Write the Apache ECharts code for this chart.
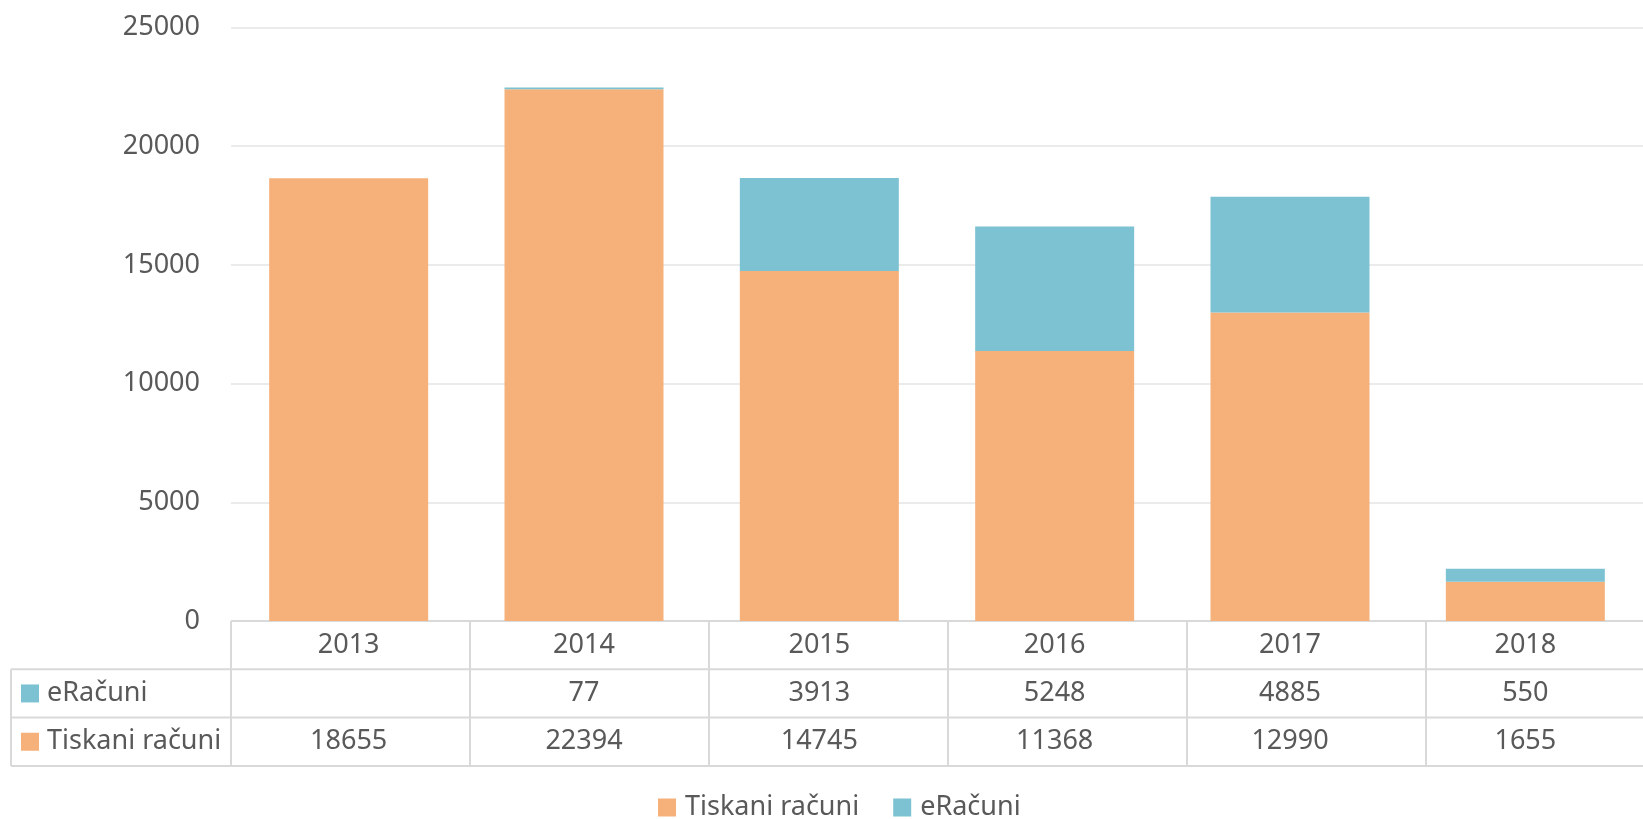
<!DOCTYPE html>
<html><head><meta charset="utf-8">
<script src="https://cdn.jsdelivr.net/npm/echarts@6/dist/echarts.min.js"></script>
<style>html,body{margin:0;padding:0;background:#fff}#c{width:1643px;height:819px}</style>
</head><body><div id="c"></div>
<script>
const years = ['2013','2014','2015','2016','2017','2018'];
const eRacuni = [null, 77, 3913, 5248, 4885, 550];
const tiskani = [18655, 22394, 14745, 11368, 12990, 1655];
const yTicks = [0, 5000, 10000, 15000, 20000, 25000];
const nameE = 'eRačuni', nameT = 'Tiskani računi';
const colE = '#7DC2D3', colT = '#F6B17B';
const txt = '#595959', font = '"Noto Sans", "Open Sans", sans-serif', fs = 27;
const border = '#D9D9D9';

const chart = echarts.init(document.getElementById('c'), null, {renderer:'canvas'});
const G = {left:231, top:27.5, height:593.5, width:1434};
chart.setOption({
  animation:false,
  textStyle:{fontFamily:font},
  grid:{left:G.left, top:G.top, height:G.height, width:G.width, containLabel:false},
  legend:{left:653, top:789, itemWidth:18, itemHeight:18, itemGap:34,
    icon:'rect', data:[nameT, nameE],
    textStyle:{fontSize:fs, color:txt, fontFamily:font, padding:[0,0,0,4]}},
  xAxis:{type:'category', data:years, axisLine:{show:false}, axisTick:{show:false}, axisLabel:{show:false}},
  yAxis:{type:'value', min:yTicks[0], max:yTicks[yTicks.length-1], interval:yTicks[1]-yTicks[0],
    axisLine:{show:false}, axisTick:{show:false},
    axisLabel:{fontSize:fs, color:txt, fontFamily:font, margin:31, formatter:v=>String(v)},
    splitLine:{lineStyle:{color:'#EBEBEB', width:2}}},
  series:[
    {name:nameT, type:'bar', stack:'s', data:tiskani, barWidth:159, itemStyle:{color:colT}},
    {name:nameE, type:'bar', stack:'s', data:eRacuni, barWidth:159, itemStyle:{color:colE}}
  ]
});

// data table drawn below the plot, columns aligned to the category axis
const top0 = G.top + G.height; // 621
const rowH = 48.3;
const y1 = top0 + rowH, y2 = top0 + 2*rowH, y3 = top0 + 3*rowH;
const right = G.left + G.width;
const colW = G.width / years.length;
const els = [];
const line = (x1,ya,x2,yb)=>els.push({type:'line', silent:true, shape:{x1:x1,y1:ya,x2:x2,y2:yb}, style:{stroke:border, lineWidth:2}});
line(G.left, top0, right, top0);
line(11, y1, right, y1);
line(11, y2, right, y2);
line(11, y3, right, y3);
line(11, y1, 11, y3);
for (let i=0;i<=years.length;i++){ const x = G.left + i*colW; line(x, top0, x, y3); }
const text = (s,x,y,align)=>els.push({type:'text', silent:true, x:x, y:y, style:{text:s, fill:txt, font:fs+'px '+font, textAlign:align||'center', textVerticalAlign:'middle'}});
years.forEach((yr,i)=>{
  const cx = chart.convertToPixel({xAxisIndex:0}, yr);
  text(yr, cx, top0 + rowH/2);
  text(eRacuni[i]==null?'':String(eRacuni[i]), cx, y1 + rowH/2);
  text(tiskani[i]==null?'':String(tiskani[i]), cx, y2 + rowH/2);
});
els.push({type:'rect', silent:true, shape:{x:21, y:y1+rowH/2-9, width:18, height:18}, style:{fill:colE}});
els.push({type:'rect', silent:true, shape:{x:21, y:y2+rowH/2-9, width:18, height:18}, style:{fill:colT}});
text(nameE, 47, y1 + rowH/2, 'left');
text(nameT, 47, y2 + rowH/2, 'left');
chart.setOption({graphic:{elements:els}});
</script>
</body></html>
